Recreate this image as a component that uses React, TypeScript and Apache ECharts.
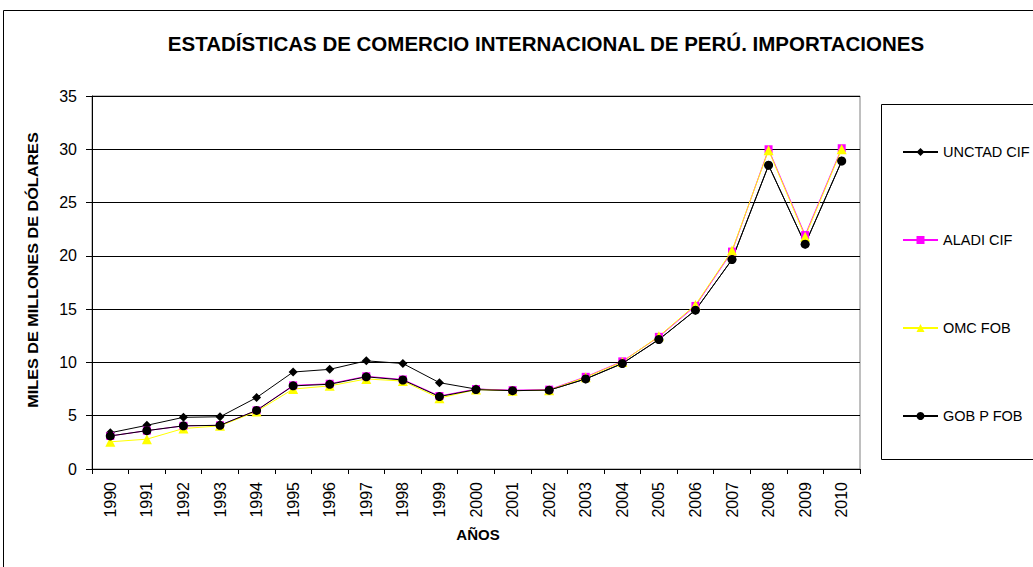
import React, { useEffect, useRef } from "react";
import * as echarts from "echarts";

const years = ["1990","1991","1992","1993","1994","1995","1996","1997","1998","1999","2000","2001","2002","2003","2004","2005","2006","2007","2008","2009","2010"];
const unctadCif = [3.4, 4.1, 4.85, 4.9, 6.7, 9.1, 9.35, 10.15, 9.9, 8.1, 7.5, 7.35, 7.4, 8.45, 9.9, 12.15, 14.9, 19.65, 28.5, 21.1, 28.9];
const aladiCif = [3.1, 3.6, 4.05, 4.1, 5.5, 7.85, 8.0, 8.7, 8.4, 6.85, 7.5, 7.4, 7.45, 8.65, 10.1, 12.4, 15.3, 20.4, 30.0, 21.95, 30.1];
const omcFob = [2.55, 2.8, 3.8, 4.05, 5.4, 7.5, 7.8, 8.45, 8.25, 6.65, 7.45, 7.35, 7.4, 8.6, 10.05, 12.45, 15.4, 20.5, 29.9, 21.8, 30.0];
const gobPFob = [3.1, 3.6, 4.05, 4.1, 5.5, 7.8, 7.95, 8.65, 8.35, 6.8, 7.45, 7.35, 7.4, 8.45, 9.9, 12.15, 14.9, 19.65, 28.5, 21.1, 28.9];

const FONT = "Liberation Sans, Arial, sans-serif";

export default function App() {
  const ref = useRef<HTMLDivElement>(null);
  useEffect(() => {
    if (!ref.current) return;
    const chart = echarts.init(ref.current, undefined, { renderer: "svg" });
    const mk = (name: string, data: number[], color: string, symbol: string, size: number) => ({
      name,
      type: "line",
      data,
      symbol,
      symbolSize: size,
      showAllSymbol: true,
      lineStyle: { color, width: 1 },
      itemStyle: { color, borderWidth: 0 },
      emphasis: { disabled: true },
    });
    chart.setOption({
      animation: false,
      backgroundColor: "#fff",
      textStyle: { fontFamily: FONT },
      title: {
        text: "ESTADÍSTICAS DE COMERCIO INTERNACIONAL DE PERÚ. IMPORTACIONES",
        left: 541,
        textAlign: "center",
        top: 28,
        textStyle: { fontFamily: FONT, fontSize: 20.5, fontWeight: "bold", color: "#000" },
      },
      graphic: [
        {
          type: "rect",
          shape: { x: 3.5, y: 10.5, width: 1100, height: 600 },
          style: { fill: "none", stroke: "#000", lineWidth: 1 },
          z: -10,
        },
        {
          type: "rect",
          shape: { x: 881.5, y: 104.5, width: 200, height: 355 },
          style: { fill: "none", stroke: "#000", lineWidth: 1 },
        },
        {
          type: "text",
          x: 33,
          y: 270,
          rotation: Math.PI / 2,
          scaleX: 1.08,
          style: {
            text: "MILES DE MILLONES DE DÓLARES",
            fontFamily: FONT,
            fontSize: 15,
            fontWeight: "bold",
            fill: "#000",
            align: "center",
            verticalAlign: "middle",
          },
        },
        {
          type: "text",
          x: 478,
          y: 534,
          style: {
            text: "AÑOS",
            fontFamily: FONT,
            fontSize: 15,
            fontWeight: "bold",
            fill: "#000",
            align: "center",
            verticalAlign: "middle",
          },
        },
      ],
      legend: {
        orient: "vertical",
        left: 897,
        top: 139,
        itemWidth: 35,
        itemHeight: 10,
        itemGap: 72,
        textStyle: { fontFamily: FONT, fontSize: 14.5, lineHeight: 16, color: "#000" },
        data: ["UNCTAD CIF", "ALADI CIF", "OMC FOB", "GOB P FOB"],
      },
      grid: {
        left: 92,
        right: 173,
        top: 96,
        bottom: 98,
        show: true,
        borderColor: "#808080",
        borderWidth: 1,
      },
      xAxis: {
        type: "category",
        data: years,
        boundaryGap: true,
        axisLine: { lineStyle: { color: "#000" } },
        axisTick: { show: true, length: 5, lineStyle: { color: "#000" } },
        axisLabel: { rotate: 90, color: "#000", fontSize: 16, fontFamily: FONT, margin: 13 },
      },
      yAxis: {
        type: "value",
        min: 0,
        max: 35,
        interval: 5,
        axisLine: { show: true, lineStyle: { color: "#000" } },
        axisTick: { show: true, length: 6, lineStyle: { color: "#000" } },
        axisLabel: { color: "#000", fontSize: 16, fontFamily: FONT, margin: 15 },
        splitLine: { lineStyle: { color: "#000", width: 1 } },
      },
      series: [
        mk("UNCTAD CIF", unctadCif, "#000000", "diamond", 9),
        mk("ALADI CIF", aladiCif, "#FF00FF", "rect", 8),
        mk("OMC FOB", omcFob, "#FFFF00", "triangle", 10),
        mk("GOB P FOB", gobPFob, "#000000", "circle", 9),
      ],
    });
    return () => chart.dispose();
  }, []);
  return (
    <div
      ref={ref}
      style={{ position: "fixed", left: 0, top: 0, width: 1033, height: 567 }}
    />
  );
}
